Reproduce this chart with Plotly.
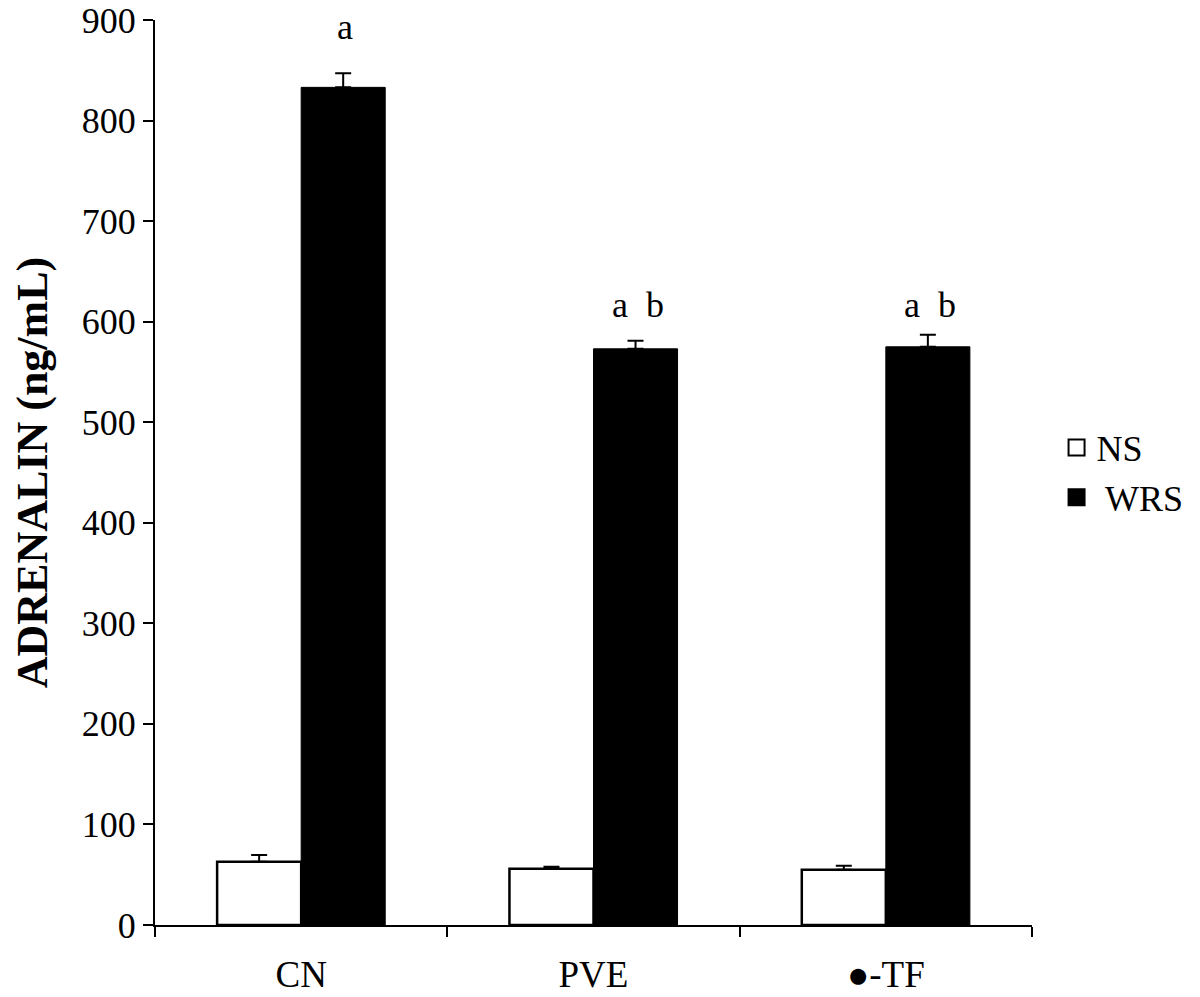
import plotly.graph_objects as go

categories = ["CN", "PVE", "●-TF"]
ns_values = [63, 56, 55]
ns_err = [6.5, 2, 4]
wrs_values = [833, 573, 575]
wrs_err = [14, 8, 12]
sig_labels = ["a", "a  b", "a  b"]
sig_heights = [893, 617, 617]

FONT = "Liberation Serif"

fig = go.Figure()
fig.add_trace(go.Bar(
    name="NS", x=categories, y=ns_values, showlegend=False,
    marker=dict(color="white", line=dict(color="black", width=2.5)),
    error_y=dict(type="data", array=ns_err, arrayminus=[0]*3, symmetric=False,
                 color="black", thickness=2, width=8),
))
fig.add_trace(go.Bar(
    name="WRS", x=categories, y=wrs_values, showlegend=False,
    marker=dict(color="black", line=dict(color="black", width=1)),
    error_y=dict(type="data", array=wrs_err, arrayminus=[0]*3, symmetric=False,
                 color="black", thickness=2, width=8),
))
# legend entries (larger square symbols)
fig.add_trace(go.Scatter(
    name="NS", x=[None], y=[None], mode="markers",
    marker=dict(symbol="square", size=16, color="white", line=dict(color="black", width=2)),
))
fig.add_trace(go.Scatter(
    name=" WRS", x=[None], y=[None], mode="markers",
    marker=dict(symbol="square", size=16, color="black", line=dict(color="black", width=2)),
))

for cat, lab, h in zip(categories, sig_labels, sig_heights):
    fig.add_annotation(x=cat, y=h, xref="x", yref="y", text=lab, showarrow=False,
                       xshift=44, yanchor="middle",
                       font=dict(family=FONT, size=36, color="black"))

fig.update_layout(
    width=1200, height=997,
    margin=dict(l=147, r=176, t=12, b=80, autoexpand=False),
    paper_bgcolor="white", plot_bgcolor="white",
    barmode="group", bargap=0.425, bargroupgap=0,
    font=dict(family=FONT, size=36, color="black"),
    legend=dict(x=1.028, y=0.5, xanchor="left", yanchor="middle",
                font=dict(family=FONT, size=36, color="black"),
                itemsizing="trace", tracegroupgap=0, itemwidth=30),
    showlegend=True,
)
fig.update_xaxes(
    showline=True, linecolor="black", linewidth=2, automargin=False,
    ticks="outside", tickson="boundaries", ticklen=10, tickwidth=2, tickcolor="black",
    tickfont=dict(family=FONT, size=37), showgrid=False, ticklabelstandoff=16,
    ticklabeloverflow="allow",
)
fig.update_yaxes(
    range=[0, 900], dtick=100, showline=True, linecolor="black", linewidth=2,
    automargin=False, ticklabeloverflow="allow",
    ticks="outside", ticklen=10, tickwidth=2, tickcolor="black",
    tickfont=dict(family=FONT, size=36), showgrid=False, zeroline=False,
    title=dict(text="<b>ADRENALIN (ng/mL)</b>", font=dict(family=FONT, size=44), standoff=20),
)

fig.write_html("out.html")
